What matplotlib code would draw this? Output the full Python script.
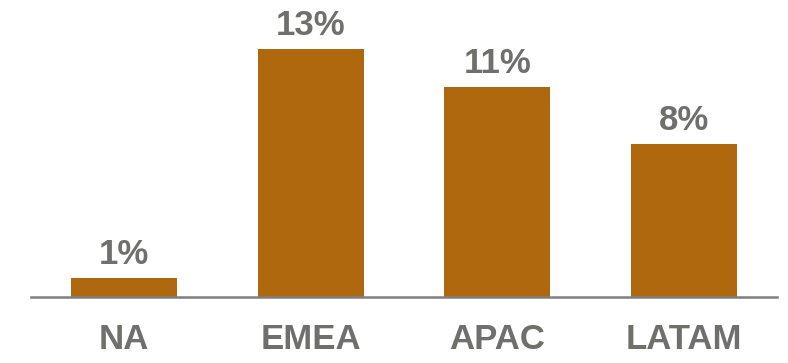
import matplotlib
matplotlib.use("Agg")
import matplotlib.pyplot as plt

regions = ["NA", "EMEA", "APAC", "LATAM"]
growth = [1, 13, 11, 8]

bar_color = "#B0680E"
text_color = "#6F6F6B"

plt.rcParams['font.family'] = ['Liberation Sans', 'DejaVu Sans']

fig = plt.figure(figsize=(7.88, 3.63), dpi=100)
ax = fig.add_axes([31 / 788, 66 / 363, 746 / 788, 267 / 363])

x = range(len(regions))
bars = ax.bar(x, growth, width=0.57, color=bar_color)

for b, v in zip(bars, growth):
    ax.annotate(f"{v}%", (b.get_x() + b.get_width() / 2, v),
                xytext=(0, 5), textcoords="offset points",
                ha="center", va="bottom", fontsize=25, fontweight="bold",
                color=text_color)

ax.set_xlim(-0.5, 3.5)
ax.set_ylim(0, 14)
ax.set_xticks(list(x))
ax.set_xticklabels(regions, fontsize=25, fontweight="bold", color=text_color)
ax.tick_params(axis="x", length=0, pad=19)
ax.set_yticks([])

for s in ["top", "right", "left"]:
    ax.spines[s].set_visible(False)
ax.spines["bottom"].set_color("#7F7F7F")
ax.spines["bottom"].set_linewidth(1.8)

fig.savefig("out.png", dpi=100)
